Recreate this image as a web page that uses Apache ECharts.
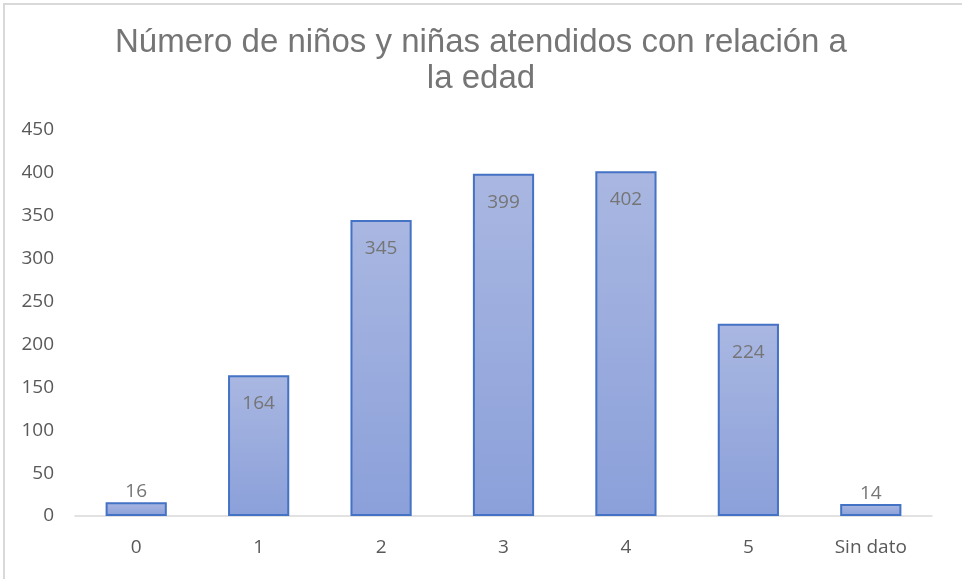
<!DOCTYPE html>
<html>
<head>
<meta charset="utf-8">
<script src="https://cdn.jsdelivr.net/npm/echarts@6/dist/echarts.min.js"></script>
<style>
	html, body { margin: 0; padding: 0; background: #fff; }
	#frame {
		position: absolute; left: 3px; top: 3px; width: 970px; height: 574px;
		border-top: 2px solid #d9d9d9; border-left: 2px solid #d9d9d9; border-bottom: 2px solid #d9d9d9;
	}
	#chart { position: absolute; left: 0; top: 0; width: 962px; height: 579px; }
</style>
</head>
<body>
<div id="frame"></div>
<div id="chart"></div>
<script>
// data
const categories = ["0", "1", "2", "3", "4", "5", "Sin dato"];
const counts = [16, 164, 345, 399, 402, 224, 14];
const chartTitle = "Número de niños y niñas atendidos con relación a\nla edad";

const myChart = echarts.init(document.getElementById("chart"));

// small bars get the label above, the rest inside the top of the bar
const barData = counts.map((v) => ({
	value: v,
	label: { position: v < 50 ? "top" : "insideTop", distance: v < 50 ? 1 : 19 },
}));

const option = {
	animation: false,
	title: {
		text: chartTitle,
		left: "center",
		top: 20,
		textStyle: {
			color: "#757575",
			fontFamily: "Liberation Sans",
			fontSize: 33,
			fontWeight: "normal",
			lineHeight: 36,
		},
	},
	grid: { left: 75, right: 30, top: 130, bottom: 63 },
	xAxis: {
		type: "category",
		data: categories,
		axisLine: { lineStyle: { color: "#d9d9d9", width: 1.5 } },
		axisTick: { show: false },
		axisLabel: {
			color: "#595959",
			fontFamily: "Open Sans",
			fontSize: 19,
			margin: 22,
		},
	},
	yAxis: {
		type: "value",
		min: 0,
		max: 450,
		interval: 50,
		splitLine: { show: false },
		axisLine: { show: false },
		axisTick: { show: false },
		axisLabel: {
			color: "#595959",
			fontFamily: "Open Sans",
			fontSize: 19,
			align: "right",
			margin: 21,
		},
	},
	series: [
		{
			type: "bar",
			data: barData,
			barWidth: "50%",
			itemStyle: {
				color: new echarts.graphic.LinearGradient(0, 0, 0, 1, [
					{ offset: 0, color: "#a9b7e1" },
					{ offset: 1, color: "#8ba0da" },
				]),
				borderColor: "#4472c4",
				borderWidth: 2,
			},
			label: {
				show: true,
				color: "#757575",
				fontFamily: "Open Sans",
				fontSize: 19,
			},
		},
	],
};

myChart.setOption(option);
</script>
</body>
</html>
